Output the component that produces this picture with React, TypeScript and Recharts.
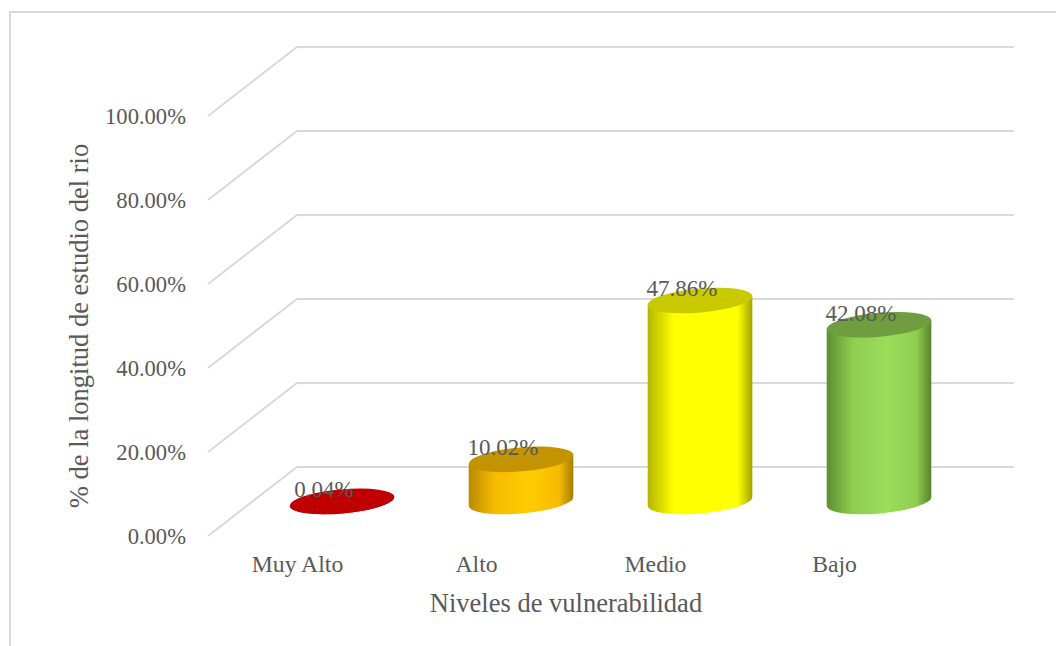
import { BarChart, Bar, XAxis, YAxis, CartesianGrid, LabelList } from 'recharts';

// niveles de vulnerabilidad y % de longitud del rio
const categories = ['Muy Alto', 'Alto', 'Medio', 'Bajo'];
const shares = [0.0004, 0.1002, 0.4786, 0.4208];
const yTicks = [0, 0.2, 0.4, 0.6, 0.8, 1.0];

const data = categories.map((name, i) => ({ name, value: shares[i] }));

// colores de cada cilindro: [borde oscuro, medio, brillo, borde derecho, tapa]
const palette = [
    ['#c00000', '#c00000', '#c00000', '#c00000', '#c00000'],
    ['#b88a00', '#f7bb00', '#ffcc00', '#a67f00', '#c39300'],
    ['#b5b500', '#ffff00', '#ffff00', '#a3a300', '#c9c900'],
    ['#5c8f31', '#8fcd4f', '#9bdd5b', '#578429', '#6f9d3f'],
];

const DX = 89;
const DY = 69;
const TILT = -5;
const TEXT = '#595959';
const FONT = '"Liberation Serif", "Times New Roman", serif';

const fmt = (v: number) => `${(v * 100).toFixed(2)}%`;

const Cylinder = (props: any) => {
    const { x, y, width, height, index } = props;
    const rx = width / 2;
    const ry = 12;
    const cx = x + rx + DX / 2;
    const top = y - DY / 2;
    const bot = y + height - DY / 2;
    const c = palette[index];
    const a = (TILT * Math.PI) / 180;
    const ox = rx * Math.cos(a);
    const oy = rx * Math.sin(a);
    // lados: extremos del eje mayor de cada elipse
    const body =
        `M${cx - ox},${top - oy} L${cx - ox},${bot - oy} ` +
        `A${rx},${ry} ${TILT} 0 0 ${cx + ox},${bot + oy} ` +
        `L${cx + ox},${top + oy} Z`;
    return (
        <g>
            <path d={body} fill={`url(#cyl${index})`} />
            <ellipse cx={cx} cy={top} rx={rx} ry={ry} fill={c[4]} transform={`rotate(${TILT} ${cx} ${top})`} />
        </g>
    );
};

const ValueLabel = (props: any) => {
    const { x, y, width, value } = props;
    const cx = x + width / 2 + DX / 2 - 18;
    return (
        <text x={cx} y={y - DY / 2 - 4} textAnchor="middle" fontSize={23} fill={TEXT} fontFamily={FONT}>
            {fmt(value)}
        </text>
    );
};

const GridLine = (props: any) => {
    const { x1, y1, x2 } = props;
    return (
        <path
            key={`g${y1}`}
            d={`M${x1},${y1} L${x1 + DX},${y1 - DY} L${x2 + DX + 1},${y1 - DY}`}
            stroke="#d9d9d9"
            strokeWidth={2}
            fill="none"
        />
    );
};

export default function App() {
    return (
        <div style={{ position: 'absolute', left: 0, top: 0, width: 1056, height: 646, background: '#fff', overflow: 'hidden' }}>
            <div style={{ position: 'absolute', left: 9, top: 11, width: 1100, height: 700, border: '2px solid #d9d9d9', boxSizing: 'border-box' }} />
            <BarChart
                width={1056}
                height={646}
                data={data}
                margin={{ top: 116, right: 132, left: 0, bottom: 50 }}
                barSize={105}
                style={{ position: 'absolute', left: 0, top: 0, fontFamily: FONT }}
            >
                <defs>
                    {palette.map((c, i) => (
                        <linearGradient key={i} id={`cyl${i}`} x1="0" y1="0" x2="1" y2="0">
                            <stop offset="0%" stopColor={c[0]} />
                            <stop offset="25%" stopColor={c[1]} />
                            <stop offset="58%" stopColor={c[2]} />
                            <stop offset="86%" stopColor={c[1]} />
                            <stop offset="100%" stopColor={c[3]} />
                        </linearGradient>
                    ))}
                </defs>
                <CartesianGrid vertical={false} horizontal={GridLine} />
                <XAxis
                    dataKey="name"
                    axisLine={false}
                    tickLine={false}
                    tickSize={0}
                    tickMargin={19}
                    height={60}
                    tick={{ fill: TEXT, fontSize: 23.7, fontFamily: FONT }}
                    label={{
                        value: 'Niveles de vulnerabilidad',
                        position: 'bottom',
                        offset: -3,
                        fill: TEXT,
                        fontSize: 26.5,
                        fontFamily: FONT,
                    }}
                />
                <YAxis
                    domain={[0, 1]}
                    ticks={yTicks}
                    width={208}
                    axisLine={false}
                    tickLine={false}
                    tickSize={0}
                    tickMargin={22}
                    tickFormatter={fmt}
                    tick={{ fill: TEXT, fontSize: 22.6, fontFamily: FONT }}
                    label={{
                        content: (p: any) => {
                            const vb = p.viewBox;
                            const cy = vb.y + vb.height / 2;
                            return (
                                <text
                                    x={79}
                                    y={cy}
                                    transform={`rotate(-90 79 ${cy})`}
                                    textAnchor="middle"
                                    dominantBaseline="central"
                                    fontSize={26.5}
                                    fill={TEXT}
                                    fontFamily={FONT}
                                >
                                    % de la longitud de estudio del rio
                                </text>
                            );
                        },
                    }}
                />
                <Bar dataKey="value" shape={Cylinder} isAnimationActive={false}>
                    <LabelList dataKey="value" content={ValueLabel} />
                </Bar>
            </BarChart>
        </div>
    );
}
